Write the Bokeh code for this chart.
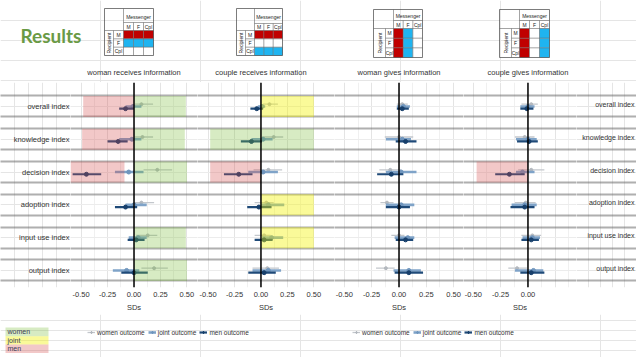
import math
from bokeh.plotting import figure
from bokeh.layouts import row, column
from bokeh.models import Range1d, FixedTicker, NumeralTickFormatter, Span, Legend, LegendItem
from bokeh.core.properties import value
from bokeh.embed import file_html
from bokeh.resources import INLINE

FONT = "Liberation Sans"

row_labels = ["overall index", "knowledge index", "decision index",
              "adoption index", "input use index", "output index"]
panel_titles = ["woman receives information", "couple receives information",
                "woman gives information", "couple gives information"]
series_names = ["women outcome", "joint outcome", "men outcome"]

# panel 1: woman receives information
p1_women_est = [0.07, 0.08, 0.22, 0.07, 0.13, 0.19]
p1_women_lo = [0.00, 0.00, 0.09, 0.00, 0.02, 0.07]
p1_women_hi = [0.18, 0.18, 0.36, 0.19, 0.22, 0.32]
p1_joint_est = [-0.01, -0.02, -0.05, 0.00, 0.04, -0.07]
p1_joint_lo = [-0.08, -0.14, -0.18, -0.08, -0.05, -0.20]
p1_joint_hi = [0.07, 0.07, 0.09, 0.12, 0.12, 0.05]
p1_men_est = [-0.08, -0.15, -0.45, -0.08, 0.02, 0.00]
p1_men_lo = [-0.14, -0.25, -0.58, -0.18, -0.06, -0.12]
p1_men_hi = [0.00, -0.06, -0.31, 0.03, 0.10, 0.13]

# panel 2: couple receives information
p2_women_est = [0.08, 0.12, 0.07, 0.05, 0.03, 0.06]
p2_women_lo = [0.02, 0.01, -0.07, -0.06, -0.06, -0.08]
p2_women_hi = [0.16, 0.21, 0.20, 0.12, 0.09, 0.17]
p2_joint_est = [0.01, 0.02, 0.02, 0.07, 0.10, 0.07]
p2_joint_lo = [-0.03, -0.09, -0.12, 0.00, 0.01, -0.08]
p2_joint_hi = [0.04, 0.11, 0.16, 0.22, 0.21, 0.19]
p2_men_est = [-0.04, -0.09, -0.21, -0.02, 0.03, 0.03]
p2_men_lo = [-0.10, -0.19, -0.35, -0.13, -0.06, -0.12]
p2_men_hi = [0.02, 0.01, -0.08, 0.10, 0.11, 0.14]

# panel 3: woman gives information
p3_women_est = [0.03, 0.00, -0.08, -0.11, 0.00, -0.12]
p3_women_lo = [-0.02, -0.13, -0.18, -0.17, -0.07, -0.21]
p3_women_hi = [0.08, 0.13, 0.02, -0.05, 0.05, -0.04]
p3_joint_est = [0.04, 0.03, 0.02, 0.02, 0.08, 0.09]
p3_joint_lo = [-0.02, -0.12, -0.12, -0.12, -0.04, -0.05]
p3_joint_hi = [0.10, 0.11, 0.16, 0.14, 0.14, 0.20]
p3_men_est = [0.03, 0.06, -0.07, 0.00, 0.06, 0.09]
p3_men_lo = [-0.02, -0.03, -0.20, -0.12, -0.03, -0.04]
p3_men_hi = [0.09, 0.16, 0.04, 0.10, 0.13, 0.22]

# panel 4: couple gives information
p4_women_est = [0.03, -0.03, 0.03, -0.02, 0.04, -0.10]
p4_women_lo = [-0.06, -0.12, -0.09, -0.12, -0.06, -0.18]
p4_women_hi = [0.09, 0.06, 0.15, 0.07, 0.12, -0.01]
p4_joint_est = [0.00, 0.00, -0.05, -0.03, 0.04, 0.05]
p4_joint_lo = [-0.07, -0.11, -0.11, -0.15, -0.05, -0.12]
p4_joint_hi = [0.06, 0.08, 0.06, 0.08, 0.11, 0.14]
p4_men_est = [-0.01, 0.01, -0.17, -0.03, 0.03, 0.03]
p4_men_lo = [-0.07, -0.10, -0.30, -0.16, -0.06, -0.07]
p4_men_hi = [0.05, 0.09, -0.03, 0.06, 0.10, 0.15]

# highlighted effect boxes
box_panel = [0, 0, 0, 0, 0, 0, 0, 0, 1, 1, 1, 1, 1, 3]
box_row = [0, 0, 1, 1, 2, 2, 4, 5, 0, 1, 2, 3, 4, 2]
box_kind = ["men", "women", "men", "women", "men", "women", "women", "women",
            "joint", "women", "men", "joint", "joint", "men"]
box_x0 = [-0.48, 0.0, -0.49, 0.0, -0.6, 0.0, 0.0, 0.0, 0.0, -0.48, -0.48, 0.0, 0.0, -0.47]
box_x1 = [0.0, 0.49, 0.0, 0.48, -0.09, 0.5, 0.49, 0.5, 0.5, 0.5, 0.0, 0.5, 0.5, 0.0]

# messenger / recipient mini tables
table_mode = ["row", "row", "col", "col"]
table_fill = [["red", "blue", "white"], ["red", "white", "blue"],
              ["red", "blue", "white"], ["red", "white", "blue"]]
table_levels = ["M", "F", "Cpl"]

axis_ticks = [[-0.5, -0.25, 0, 0.25, 0.5]] * 3 + [[-0.5, -0.25, 0]]
grid_ticks = [-0.5, -0.25, 0, 0.25, 0.5]
grid_minor = [-0.375, -0.125, 0.125, 0.375]

data = {
    0: [(p1_women_est, p1_women_lo, p1_women_hi), (p1_joint_est, p1_joint_lo, p1_joint_hi), (p1_men_est, p1_men_lo, p1_men_hi)],
    1: [(p2_women_est, p2_women_lo, p2_women_hi), (p2_joint_est, p2_joint_lo, p2_joint_hi), (p2_men_est, p2_men_lo, p2_men_hi)],
    2: [(p3_women_est, p3_women_lo, p3_women_hi), (p3_joint_est, p3_joint_lo, p3_joint_hi), (p3_men_est, p3_men_lo, p3_men_hi)],
    3: [(p4_women_est, p4_women_lo, p4_women_hi), (p4_joint_est, p4_joint_lo, p4_joint_hi), (p4_men_est, p4_men_lo, p4_men_hi)],
}

# ---- styles / layout ----
series_line = ["#c3c7cc", "#7fa3c8", "#1f4a78"]
series_pt = ["#b3b8be", "#6f95bd", "#173f6b"]
series_lw = [1.3, 2.6, 2.2]
box_color = {"women": "#7abc37", "joint": "#f3f300", "men": "#d44848"}
box_alpha = {"women": 0.3, "joint": 0.4, "men": 0.3}
tab_color = {"red": "#c00000", "blue": "#1fb4f0", "white": "white"}

TOTAL_W, TOTAL_H = 636, 357
W_LEFT, W_RIGHT = 70, 60
panel_w = [127, 137, 129, 113]
panel_xr = [(-0.6, 0.6), (-0.6, 0.695), (-0.59, 0.59), (-0.59, 0.444)]
HEAD_H, MID_H, AX_H = 82, 232, 26
FOOT_H = TOTAL_H - HEAD_H - MID_H
Y0, Y1 = -5.52, 0.73
HALF, OFF = 0.32, 0.068
ROWY = [-i for i in range(len(row_labels))]
DOT = dict(line_color="#5e5e5e", line_dash="1 1", line_width=2)
TXT = "#333333"


def mid_fig(w, xr, axis):
    return figure(width=w, height=MID_H, x_range=Range1d(*xr), y_range=Range1d(Y0, Y1),
                  output_backend="svg", toolbar_location=None, min_border=0,
                  min_border_bottom=AX_H, x_axis_location="below" if axis else None,
                  y_axis_location=None, outline_line_color=None)


def add_dots(p):
    ys = [y + HALF for y in ROWY] + [y - HALF for y in ROWY]
    p.hspan(y=ys, **DOT)


# left labels
pl = mid_fig(W_LEFT, (0, 1), False)
add_dots(pl)
pl.text(x=[1] * 6, y=ROWY, text=row_labels, text_align="right", text_baseline="middle",
        x_offset=-1, text_font=value(FONT), text_font_size="7.5px", text_color=TXT)

panels = []
for k in range(4):
    p = mid_fig(panel_w[k], panel_xr[k], True)
    p.xgrid.ticker = FixedTicker(ticks=grid_ticks, minor_ticks=grid_minor)
    p.xgrid.grid_line_color = "#e4e4e4"
    p.xgrid.minor_grid_line_color = "#f0f0f0"
    p.hspan(y=ROWY, line_color="#ececec", line_width=1)
    add_dots(p)
    for s in range(3):
        est, lo, hi = data[k][s]
        ys = [y + OFF * (1 - s) for y in ROWY]
        p.segment(x0=lo, y0=ys, x1=hi, y1=ys, line_color=series_line[s], line_width=series_lw[s])
        p.scatter(x=est, y=ys, size=4 if s else 3, color=series_pt[s])
    for j in range(len(box_panel)):
        if box_panel[j] != k:
            continue
        kd = box_kind[j]
        p.quad(left=box_x0[j], right=box_x1[j], bottom=ROWY[box_row[j]] - HALF,
               top=ROWY[box_row[j]] + HALF, fill_color=box_color[kd],
               fill_alpha=box_alpha[kd], line_color=None)
    p.add_layout(Span(location=0, dimension="height", line_color="black", line_width=1.5))
    ax = p.xaxis[0]
    ax.ticker = FixedTicker(ticks=axis_ticks[k])
    ax.formatter = NumeralTickFormatter(format="0.00")
    ax.axis_line_color = None
    ax.major_tick_line_color = None
    ax.minor_tick_line_color = None
    ax.major_tick_out = 0
    ax.major_label_standoff = 4
    ax.major_label_text_font = FONT
    ax.major_label_text_font_size = "7.5px"
    ax.major_label_text_color = TXT
    ax.axis_label = "SDs"
    ax.axis_label_text_font = FONT
    ax.axis_label_text_font_size = "7.5px"
    ax.axis_label_text_font_style = "normal"
    ax.axis_label_text_color = TXT
    ax.axis_label_standoff = 3
    panels.append(p)

pr = mid_fig(W_RIGHT, (0, 1), False)
add_dots(pr)
pr.text(x=[1] * 6, y=ROWY, text=row_labels, text_align="right", text_baseline="middle",
        x_offset=-2, y_offset=-2, text_font=value(FONT), text_font_size="7px", text_color=TXT)

middle = row(pl, panels[0], panels[1], panels[2], panels[3], pr, spacing=0)

# zero positions of panels in page coordinates
lefts = []
x = W_LEFT
for k in range(4):
    lefts.append(x)
    x += panel_w[k]
zero_x = [lefts[k] + (0 - panel_xr[k][0]) / (panel_xr[k][1] - panel_xr[k][0]) * panel_w[k] for k in range(4)]

# ---- header ----
hd = figure(width=TOTAL_W, height=HEAD_H, x_range=Range1d(0, TOTAL_W), y_range=Range1d(HEAD_H, 0),
            output_backend="svg", toolbar_location=None, min_border=0,
            x_axis_location=None, y_axis_location=None, outline_line_color=None)
hd.text(x=[20], y=[35], text=["Results"], text_baseline="middle", text_font=value("Lato"),
        text_font_style="bold", text_font_size="19px", text_color="#6a9a45")
hd.text(x=zero_x, y=[72] * 4, text=panel_titles, text_align="center", text_baseline="middle",
        text_font=value(FONT), text_font_size="7.5px", text_color=TXT)

# table geometry: left, top, width, height, recipient col, label col, header row, col-label row
tab_geo = [(104, 8, 49, 47, 9, 10, 14, 8), (236, 8, 46, 47, 9, 9, 15, 7),
           (373, 9, 49, 48, 12, 8, 11, 8), (499, 9, 50, 48, 12, 8, 11, 8)]
for k in range(4):
    L, T, Wt, Ht, a, b, h1, h2 = tab_geo[k]
    dx0 = L + a + b
    dy0 = T + h1 + h2
    cw = (L + Wt - dx0) / 3
    rh = (T + Ht - dy0) / 3
    cl, cr, cb, ct, cc = [], [], [], [], []
    for i in range(3):
        for j in range(3):
            idx = i if table_mode[k] == "row" else j
            cl.append(dx0 + j * cw); cr.append(dx0 + (j + 1) * cw)
            ct.append(dy0 + i * rh); cb.append(dy0 + (i + 1) * rh)
            cc.append(tab_color[table_fill[k][idx]])
    hd.quad(left=cl, right=cr, top=ct, bottom=cb, fill_color=cc, line_color=None)
    hd.quad(left=[L], right=[L + Wt], top=[T], bottom=[T + Ht], fill_color=None,
            line_color="#444444", line_width=0.7)
    hd.segment(x0=[L, dx0, L + a], y0=[dy0, T + h1, dy0 + rh],
               x1=[L + Wt, L + Wt, L + Wt], y1=[dy0, T + h1, dy0 + rh],
               line_color="#666666", line_width=0.6)
    hd.segment(x0=[L + a, L + a, dx0, dx0 + cw, dx0 + 2 * cw],
               y0=[dy0 + 2 * rh, dy0, T, T + h1, T + h1],
               x1=[L + Wt, L + a, dx0, dx0 + cw, dx0 + 2 * cw],
               y1=[dy0 + 2 * rh, T + Ht, T + Ht, T + Ht, T + Ht],
               line_color="#666666", line_width=0.6)
    hd.text(x=[dx0 + 1.5 * cw], y=[T + h1 / 2 + 1], text=["Messenger"], text_align="center",
            text_baseline="middle", text_font=value(FONT), text_font_size="5px", text_color="#222222")
    hd.text(x=[dx0 + (j + 0.5) * cw for j in range(3)], y=[T + h1 + h2 / 2] * 3, text=table_levels,
            text_align="center", text_baseline="middle", text_font=value(FONT), text_font_size="5px",
            text_color="#222222")
    hd.text(x=[L + a + b / 2] * 3, y=[dy0 + (i + 0.5) * rh for i in range(3)], text=table_levels,
            text_align="center", text_baseline="middle", text_font=value(FONT), text_font_size="5px",
            text_color="#222222")
    hd.text(x=[L + a / 2], y=[dy0 + 1.5 * rh], text=["Recipient"], angle=math.pi / 2,
            text_align="center", text_baseline="middle", text_font=value(FONT), text_font_size="5px",
            text_color="#222222")

# ---- footer ----
y_top = HEAD_H + MID_H
ft = figure(width=TOTAL_W, height=FOOT_H, x_range=Range1d(0, TOTAL_W),
            y_range=Range1d(TOTAL_H, y_top),
            output_backend="svg", toolbar_location=None, min_border=0,
            x_axis_location=None, y_axis_location=None, outline_line_color=None)
key_names = ["women", "joint", "men"]
key_top = [327, 335.7, 344]
key_bot = [335.7, 344, 352.5]
ft.quad(left=[5] * 3, right=[48] * 3, top=key_top, bottom=key_bot,
        fill_color=[box_color[n] for n in key_names], fill_alpha=[box_alpha[n] for n in key_names],
        line_color=None)
ft.text(x=[7] * 3, y=[(key_top[i] + key_bot[i]) / 2 for i in range(3)], text=key_names,
        text_baseline="middle", text_font=value(FONT), text_font_size="7px", text_color="#3d3d55")

# legend proxies (kept outside the visible range; only their legend keys are seen)
items = []
for s in range(3):
    r1 = ft.line(x=[-60, -50], y=[330, 330], line_color=series_line[s], line_width=series_lw[s])
    r2 = ft.scatter(x=[-55], y=[330], marker="cross", size=7, line_color=series_pt[s], line_width=1.2)
    items.append(LegendItem(label=series_names[s], renderers=[r1, r2]))
for lx in (87, 352):
    leg = Legend(items=items, orientation="horizontal",
                 location=(lx, TOTAL_H - 336),
                 label_text_font=FONT, label_text_font_size="6.5px", label_text_color=TXT,
                 glyph_width=8, glyph_height=8, label_height=8, label_standoff=2, spacing=3,
                 padding=0, margin=0, border_line_color=None, background_fill_alpha=0)
    ft.add_layout(leg)

page = column(hd, middle, ft, spacing=0)
open("out.html", "w").write(file_html(page, INLINE))
